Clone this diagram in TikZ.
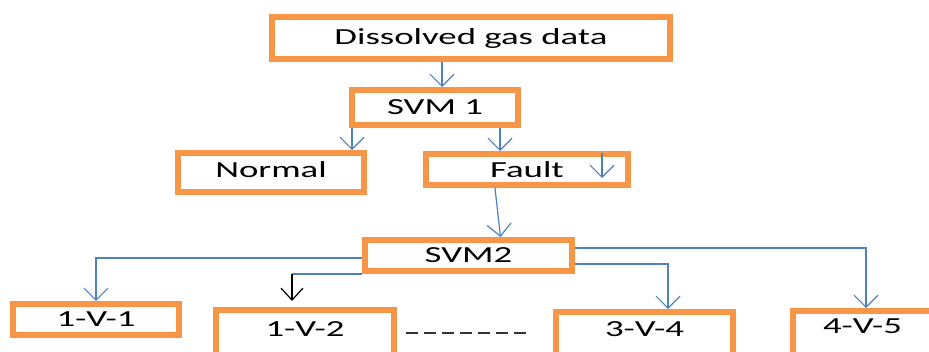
\documentclass[tikz,border=0pt]{standalone}
\usepackage{fontspec}
\setmainfont[FakeStretch=1.6]{Carlito}
\usetikzlibrary{arrows.meta}
\definecolor{boxorange}{HTML}{F79646}
\definecolor{linkblue}{HTML}{4F81BD}

\begin{document}
\begin{tikzpicture}[x=1pt,y=-1pt,
	box/.style={draw=boxorange,line width=6pt,inner sep=0pt,font=\fontsize{23}{25}\selectfont},
	link/.style={draw=linkblue,line width=1.2pt},
	tip/.style={link,-{Straight Barb[length=12pt,width=24pt]}},
	darktip/.style={draw=black,line width=1.2pt,-{Straight Barb[length=12pt,width=22pt]}},
	gap/.style={draw=black!80,line width=1.4pt,dash pattern=on 12pt off 6pt}]
	\useasboundingbox (0,0) rectangle (929,352);

	\node[box,minimum width=398pt,minimum height=42pt] (dgd) at (471,38) {Dissolved gas data};
	\node[box,minimum width=166pt,minimum height=35pt] (svm1) at (435,107.5) {SVM 1};
	\node[box,minimum width=186pt,minimum height=39pt,text depth=5pt] (normal) at (271,172.5) {Normal};
	\node[box,minimum width=202pt,minimum height=31pt] (fault) at (527,169.5) {Fault};
	\node[box,minimum width=207pt,minimum height=31pt] (svm2) at (468.5,255.5) {SVM2};
	\node[box,minimum width=166pt,minimum height=31pt] (v1) at (96,319.5) {1-V-1};
	\node[box,minimum width=178pt,minimum height=49pt,text depth=11pt] (v2) at (305,334.5) {1-V-2};
	\node[box,minimum width=177pt,minimum height=47pt,text depth=13pt] (v34) at (644.5,335.5) {3-V-4};
	\node[box,minimum width=139pt,minimum height=48pt,text depth=17pt] (v45) at (862.5,335) {4-V-5};

	\coordinate (a1) at ([xshift=7pt]svm1.north); \draw[tip] (a1 |- dgd.south) -- (a1);
	\coordinate (a2) at ([xshift=3pt]svm1.south west); \draw[tip] (a2) -- (a2 |- normal.north);
	\coordinate (a3) at ([xshift=-27pt]fault.north); \draw[tip] (a3 |- svm1.south) -- (a3);
	\draw[tip] ([xshift=-29pt,yshift=-2pt]fault.north east) -- ++(0,25);
	\draw[tip] ([xshift=-32pt]fault.south) -- ([xshift=32pt]svm2.north);

	\draw[tip] ([yshift=-2.5pt]svm2.west) -| (v1.north);
	\coordinate (v2tip) at ([xshift=-13pt,yshift=6pt]v2.north);
	\draw[link] (svm2.south west) -- (svm2.south west -| v2tip);
	\draw[darktip] (svm2.south west -| v2tip) -- (v2tip);
	\draw[tip] ([yshift=-8.5pt]svm2.east) -| ([xshift=23.5pt]v34.north);
	\draw[tip] ([yshift=7.5pt]svm2.east) -| ([xshift=3.5pt]v45.north);

	\draw[gap] ([xshift=9pt,yshift=1.5pt]v2.east) -- ([xshift=-26pt,yshift=2.5pt]v34.west);
\end{tikzpicture}
\end{document}
